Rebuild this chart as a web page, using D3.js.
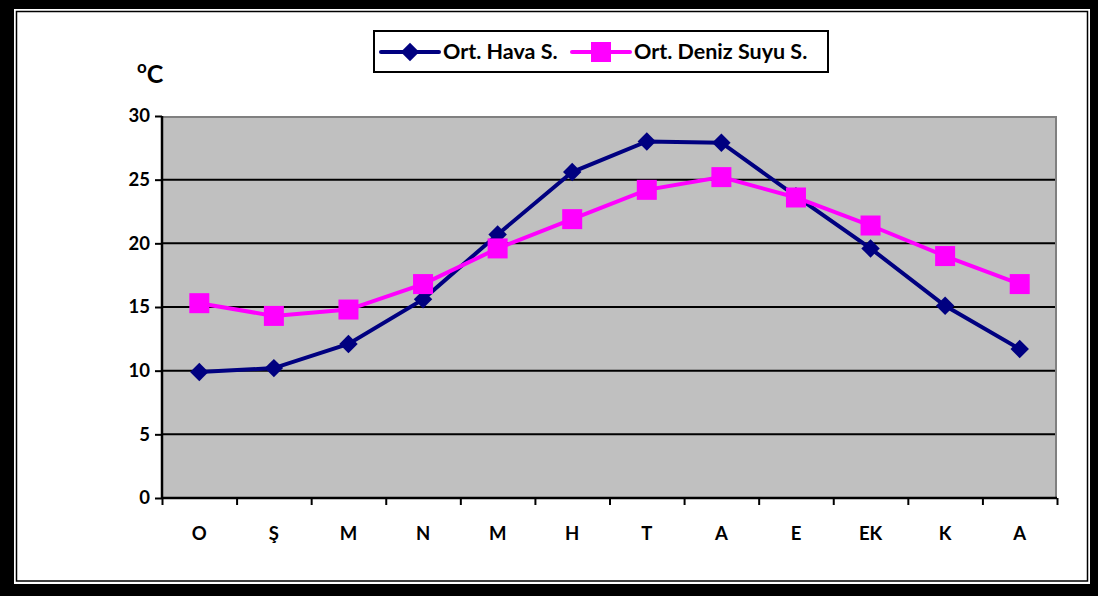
<!DOCTYPE html>
<html>
<head>
<meta charset="utf-8">
<script src="https://cdn.jsdelivr.net/npm/d3@7"></script>
<style>
	body { margin: 0; background: #000; }
	svg { display: block; }
	text { font-family: Lato, "Open Sans", sans-serif; font-weight: bold; fill: #000; }
</style>
</head>
<body>
<svg width="1098" height="596"></svg>
<script>
// months (Turkish initials, Oct -> Sep)
var months = ["O", "Ş", "M", "N", "M", "H", "T", "A", "E", "EK", "K", "A"];
var havaS = [9.9, 10.2, 12.1, 15.6, 20.7, 25.6, 28.0, 27.9, 23.7, 19.6, 15.1, 11.7];
var denizS = [15.3, 14.3, 14.8, 16.8, 19.6, 21.9, 24.2, 25.2, 23.6, 21.4, 19.0, 16.8];
var yTicks = [0, 5, 10, 15, 20, 25, 30];
var seriesNames = ["Ort. Hava S.", "Ort. Deniz Suyu S."];

var svg = d3.select("svg");

// frame
svg.append("rect").attr("x", 14).attr("y", 9).attr("width", 1076).attr("height", 575).attr("fill", "#fff");
svg.append("rect").attr("x", 16.5).attr("y", 11.5).attr("width", 1071).attr("height", 569.5)
	.attr("fill", "none").attr("stroke", "#000").attr("stroke-width", 1.5);

var pLeft = 162, pRight = 1057, pTop = 116, pBottom = 498;

var x = d3.scaleLinear().domain([0, months.length]).range([pLeft, pRight]);
var y = d3.scaleLinear().domain([0, 30]).range([pBottom, pTop]);

// plot area
svg.append("rect").attr("x", pLeft).attr("y", pTop).attr("width", pRight - pLeft).attr("height", pBottom - pTop)
	.attr("fill", "#c0c0c0");
svg.append("path").attr("d", "M" + pLeft + "," + (pTop + 1) + "H" + (pRight - 1) + "V" + pBottom)
	.attr("fill", "none").attr("stroke", "#808080").attr("stroke-width", 2);

// grid
svg.append("g").selectAll("line")
	.data(yTicks.filter(function(d) { return d > 0 && d < 30; }))
	.enter().append("line")
	.attr("x1", pLeft).attr("x2", pRight - 2)
	.attr("y1", function(d) { return y(d); })
	.attr("y2", function(d) { return y(d); })
	.attr("stroke", "#000").attr("stroke-width", 2);

// y axis
var yAxis = svg.append("g")
	.attr("transform", "translate(" + pLeft + ",0)")
	.call(d3.axisLeft(y).tickValues(yTicks).tickSize(7).tickPadding(5));
yAxis.select(".domain").attr("stroke-width", 2.5).attr("d", "M0," + pTop + "V" + pBottom);
yAxis.selectAll(".tick line").attr("stroke-width", 2);
yAxis.selectAll("text").style("font-size", "18.5px").style("font-family", "Lato, sans-serif").style("font-weight", "bold");

// x axis
var xAxis = svg.append("g")
	.attr("transform", "translate(0," + pBottom + ")")
	.call(d3.axisBottom(x).tickValues(d3.range(months.length + 1)).tickSize(7).tickFormat(""));
xAxis.select(".domain").attr("stroke-width", 2.5).attr("d", "M" + pLeft + ",0H" + pRight);
xAxis.selectAll(".tick line").attr("stroke-width", 2);

svg.append("g").selectAll("text")
	.data(months)
	.enter().append("text")
	.attr("x", function(d, i) { return x(i + 0.5); })
	.attr("y", 540)
	.attr("text-anchor", "middle")
	.style("font-size", "18.5px")
	.text(function(d) { return d; });

// unit label
var unit = svg.append("text").attr("x", 137).attr("y", 83).style("font-size", "25px");
unit.append("tspan").attr("dy", -10).style("font-size", "17px").text("o");
unit.append("tspan").attr("dy", 10).text("C");

// lines
var line = d3.line()
	.x(function(d, i) { return x(i + 0.5); })
	.y(function(d) { return y(d); });

svg.append("path").datum(havaS)
	.attr("d", line).attr("fill", "none").attr("stroke", "#000080").attr("stroke-width", 4);
svg.append("path").datum(denizS)
	.attr("d", line).attr("fill", "none").attr("stroke", "#ff00ff").attr("stroke-width", 4);

var diamond = d3.symbol().type(d3.symbolSquare).size(170);
svg.append("g").selectAll("path")
	.data(havaS)
	.enter().append("path")
	.attr("d", diamond)
	.attr("transform", function(d, i) { return "translate(" + x(i + 0.5) + "," + y(d) + ") rotate(45)"; })
	.attr("fill", "#000080");

svg.append("g").selectAll("rect")
	.data(denizS)
	.enter().append("rect")
	.attr("x", function(d, i) { return x(i + 0.5) - 10; })
	.attr("y", function(d) { return y(d) - 10; })
	.attr("width", 20).attr("height", 20)
	.attr("fill", "#ff00ff");

// legend
var legend = svg.append("g");
legend.append("rect").attr("x", 374).attr("y", 31).attr("width", 454).attr("height", 41)
	.attr("fill", "#fff").attr("stroke", "#000").attr("stroke-width", 2);

var items = [
	{ name: seriesNames[0], color: "#000080", x0: 381, marker: "diamond" },
	{ name: seriesNames[1], color: "#ff00ff", x0: 572, marker: "square" }
];
items.forEach(function(it) {
	var g = legend.append("g");
	g.append("line").attr("x1", it.x0).attr("x2", it.x0 + 58).attr("y1", 52).attr("y2", 52)
		.attr("stroke", it.color).attr("stroke-width", 4).attr("stroke-linecap", "round");
	if (it.marker == "diamond") {
		g.append("path").attr("d", diamond)
			.attr("transform", "translate(" + (it.x0 + 29) + ",52) rotate(45)")
			.attr("fill", it.color);
	} else {
		g.append("rect").attr("x", it.x0 + 19).attr("y", 42).attr("width", 20).attr("height", 20)
			.attr("fill", it.color);
	}
	g.append("text").attr("x", it.x0 + 62).attr("y", 59).style("font-size", "21.5px").text(it.name);
});
</script>
</body>
</html>
